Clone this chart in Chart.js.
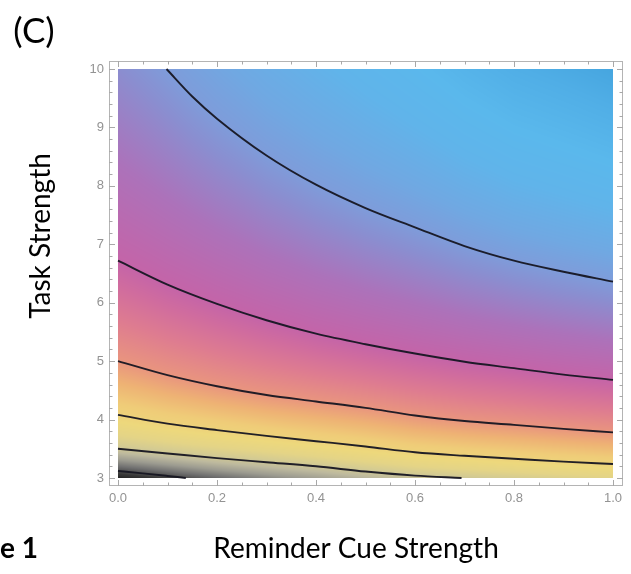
<!DOCTYPE html>
<html>
<head>
<meta charset="utf-8">
<script src="https://cdn.jsdelivr.net/npm/chart.js@4.4.1/dist/chart.umd.min.js"></script>
<style>
  html, body { margin: 0; padding: 0; background: #fff; }
  #wrap { position: relative; width: 631px; height: 574px; }
</style>
</head>
<body>
<div id="wrap"><canvas id="contour-plot"></canvas></div>
<script>
// contour lines of the surface, as [reminder cue strength, task strength]
const contour1 = [[0, 3.12], [0.05, 3.08], [0.1, 3.035], [0.137, 3.0]]
const contour2 = [[0, 3.50], [0.1, 3.42], [0.2, 3.34], [0.3, 3.27], [0.4, 3.20], [0.5, 3.11], [0.6, 3.04], [0.694, 3.0]]
const contour3 = [[0, 4.08], [0.1, 3.93], [0.2, 3.82], [0.3, 3.72], [0.4, 3.63], [0.5, 3.54], [0.6, 3.44], [0.7, 3.38], [0.8, 3.33], [0.9, 3.28], [1.0, 3.24]]
const contour4 = [[0, 5.0], [0.1, 4.76], [0.2, 4.57], [0.3, 4.42], [0.4, 4.31], [0.5, 4.20], [0.6, 4.07], [0.7, 3.975], [0.8, 3.91], [0.9, 3.84], [1.0, 3.78]]
const contour5 = [[0, 6.72], [0.1, 6.31], [0.2, 5.98], [0.3, 5.70], [0.4, 5.47], [0.5, 5.29], [0.6, 5.13], [0.7, 4.99], [0.8, 4.88], [0.9, 4.77], [1.0, 4.68]]
const contour6 = [[0.098, 10], [0.15, 9.53], [0.2, 9.15], [0.3, 8.52], [0.4, 8.02], [0.5, 7.62], [0.6, 7.29], [0.7, 6.97], [0.8, 6.72], [0.9, 6.53], [1.0, 6.36]]
const contours = [contour1, contour2, contour3, contour4, contour5, contour6]

const xTickValues = [0, 0.2, 0.4, 0.6, 0.8, 1.0]
const yTickValues = [3, 4, 5, 6, 7, 8, 9, 10]
const xRange = [0, 1]
const yRange = [3, 10]

// colour scale by contour level
const colorStops = [
  [0.4, '#1c1c1c'], [0.8, '#383838'], [1.0, '#505050'], [1.2, '#707070'],
  [1.5, '#9c9b90'], [1.8, '#bdb99e'], [2.1, '#d4cb92'], [2.4, '#e4d486'],
  [2.8, '#edd87c'], [3.2, '#efcc78'], [3.6, '#eeb274'], [4.0, '#e9957e'],
  [4.4, '#de7c90'], [4.75, '#d06c9e'], [5.0, '#c464a8'], [5.4, '#ac72ba'],
  [5.8, '#8a8ed0'], [6.0, '#7e9cda'], [6.15, '#70a8e2'], [6.4, '#60b4ea'],
  [6.65, '#5ab8ec'], [6.95, '#50aee6'], [7.2, '#44a4de']
].map(([z, hex]) => [z, [1, 3, 5].map(i => parseInt(hex.slice(i, i + 2), 16))])

function colorFor(z) {
  if (z <= colorStops[0][0]) return colorStops[0][1]
  for (let i = 1; i < colorStops.length; i++) {
    if (z <= colorStops[i][0]) {
      const [z0, c0] = colorStops[i - 1], [z1, c1] = colorStops[i]
      const t = (z - z0) / (z1 - z0)
      return [0, 1, 2].map(k => c0[k] + (c1[k] - c0[k]) * t)
    }
  }
  return colorStops[colorStops.length - 1][1]
}

// height of a contour at x, carried past its ends along the end segments
function contourY(points, x) {
  let i = 0
  if (x >= points[points.length - 1][0]) i = points.length - 2
  else if (x > points[0][0]) { while (points[i + 1][0] < x) i++ }
  const [x0, y0] = points[i], [x1, y1] = points[i + 1]
  return y0 + (y1 - y0) * (x - x0) / (x1 - x0)
}

// level between neighbouring contours, spacing grown/shrunk geometrically outside
function levelAt(ys, y) {
  const n = ys.length
  if (y < ys[0]) {
    const r = (ys[2] - ys[1]) / (ys[1] - ys[0])
    return 1 - (ys[0] - y) / ((ys[1] - ys[0]) / r)
  }
  for (let k = 0; k < n - 1; k++) {
    if (y <= ys[k + 1]) return k + 1 + (y - ys[k]) / (ys[k + 1] - ys[k])
  }
  const r = (ys[n - 1] - ys[n - 2]) / (ys[n - 2] - ys[n - 3])
  return n + (y - ys[n - 1]) / ((ys[n - 1] - ys[n - 2]) * r)
}

const shadingPlugin = {
  id: 'shading',
  beforeDatasetsDraw(chart) {
    const { ctx, scales: { x, y } } = chart
    const left = Math.round(x.getPixelForValue(xRange[0]))
    const right = Math.round(x.getPixelForValue(xRange[1]))
    const top = Math.round(y.getPixelForValue(yRange[1]))
    const bottom = Math.round(y.getPixelForValue(yRange[0]))
    const w = right - left, h = bottom - top
    const off = document.createElement('canvas')
    off.width = w; off.height = h
    const octx = off.getContext('2d')
    const img = octx.createImageData(w, h)
    for (let i = 0; i < w; i++) {
      const xv = x.getValueForPixel(left + i + 0.5)
      const ys = contours.map(c => contourY(c, xv))
      for (let j = 0; j < h; j++) {
        const yv = y.getValueForPixel(top + j + 0.5)
        const c = colorFor(levelAt(ys, yv))
        const p = (j * w + i) * 4
        img.data[p] = c[0]; img.data[p + 1] = c[1]; img.data[p + 2] = c[2]; img.data[p + 3] = 255
      }
    }
    octx.putImageData(img, 0, 0)
    ctx.drawImage(off, left, top)
  }
}

// frame with inward ticks on all four sides
const framePlugin = {
  id: 'frame',
  afterDatasetsDraw(chart) {
    const { ctx, chartArea: a, scales: { x, y } } = chart
    ctx.save()
    ctx.strokeStyle = '#b4b4b4'
    ctx.lineWidth = 1
    ctx.strokeRect(a.left + 0.5, a.top + 0.5, a.right - a.left - 1, a.bottom - a.top - 1)
    ctx.strokeStyle = '#a8a8a8'
    ctx.beginPath()
    for (let k = 0; k <= 20; k++) {
      const v = k * 0.05
      const len = k % 4 === 0 ? 6 : 3.5
      const px = Math.round(x.getPixelForValue(v)) + 0.5
      ctx.moveTo(px, a.bottom); ctx.lineTo(px, a.bottom - len)
      ctx.moveTo(px, a.top); ctx.lineTo(px, a.top + len)
    }
    for (let k = 0; k <= 35; k++) {
      const v = 3 + k * 0.2
      const len = k % 5 === 0 ? 6 : 3.5
      const py = Math.round(y.getPixelForValue(v)) + 0.5
      ctx.moveTo(a.left, py); ctx.lineTo(a.left + len, py)
      ctx.moveTo(a.right, py); ctx.lineTo(a.right - len, py)
    }
    ctx.stroke()
    ctx.restore()
  }
}

const labelPlugin = {
  id: 'labels',
  afterDraw(chart) {
    const { ctx } = chart
    ctx.save()
    ctx.fillStyle = '#000'
    ctx.textBaseline = 'middle'
    ctx.textAlign = 'center'
    ctx.font = '35px Lato'
    ctx.fillText('(C)', 34, 32)
    ctx.font = '28px Lato'
    ctx.fillText('Reminder Cue Strength', 356, 549)
    ctx.save()
    ctx.translate(41, 236)
    ctx.rotate(-Math.PI / 2)
    ctx.fillText('Task Strength', 0, 0)
    ctx.restore()
    ctx.textAlign = 'left'
    ctx.font = 'bold 28px Lato'
    ctx.fillText('e 1', 0, 549)
    ctx.restore()
  }
}

const tickFont = { family: 'Liberation Sans', size: 13 }

new Chart(document.getElementById('contour-plot'), {
  type: 'scatter',
  data: {
    datasets: contours.map((c, i) => ({
      label: 'level ' + (i + 1),
      data: c.map(([x, y]) => ({ x, y })),
      showLine: true,
      pointRadius: 0,
      borderColor: 'rgba(22, 22, 34, 0.95)',
      borderWidth: 1.9,
      cubicInterpolationMode: 'monotone'
    }))
  },
  options: {
    responsive: true,
    maintainAspectRatio: false,
    animation: false,
    events: [],
    layout: { padding: { top: 61, right: 8, left: 0, bottom: 0 } },
    plugins: { legend: { display: false }, tooltip: { enabled: false } },
    scales: {
      x: {
        type: 'linear',
        min: -0.0182,
        max: 1.0202,
        afterBuildTicks: s => { s.ticks = xTickValues.map(v => ({ value: v })) },
        afterFit: s => { s.height = 88 },
        grid: { display: false, drawTicks: false },
        border: { display: false },
        ticks: {
          callback: v => v.toFixed(1),
          color: '#939393',
          font: tickFont,
          padding: 5,
          maxRotation: 0,
          autoSkip: false
        }
      },
      y: {
        type: 'linear',
        min: 2.863,
        max: 10.137,
        afterBuildTicks: s => { s.ticks = yTickValues.map(v => ({ value: v })) },
        afterFit: s => { s.width = 109 },
        grid: { display: false, drawTicks: false },
        border: { display: false },
        ticks: {
          callback: v => String(v),
          color: '#939393',
          font: tickFont,
          padding: 5,
          autoSkip: false
        }
      }
    }
  },
  plugins: [shadingPlugin, framePlugin, labelPlugin]
})
</script>
</body>
</html>
